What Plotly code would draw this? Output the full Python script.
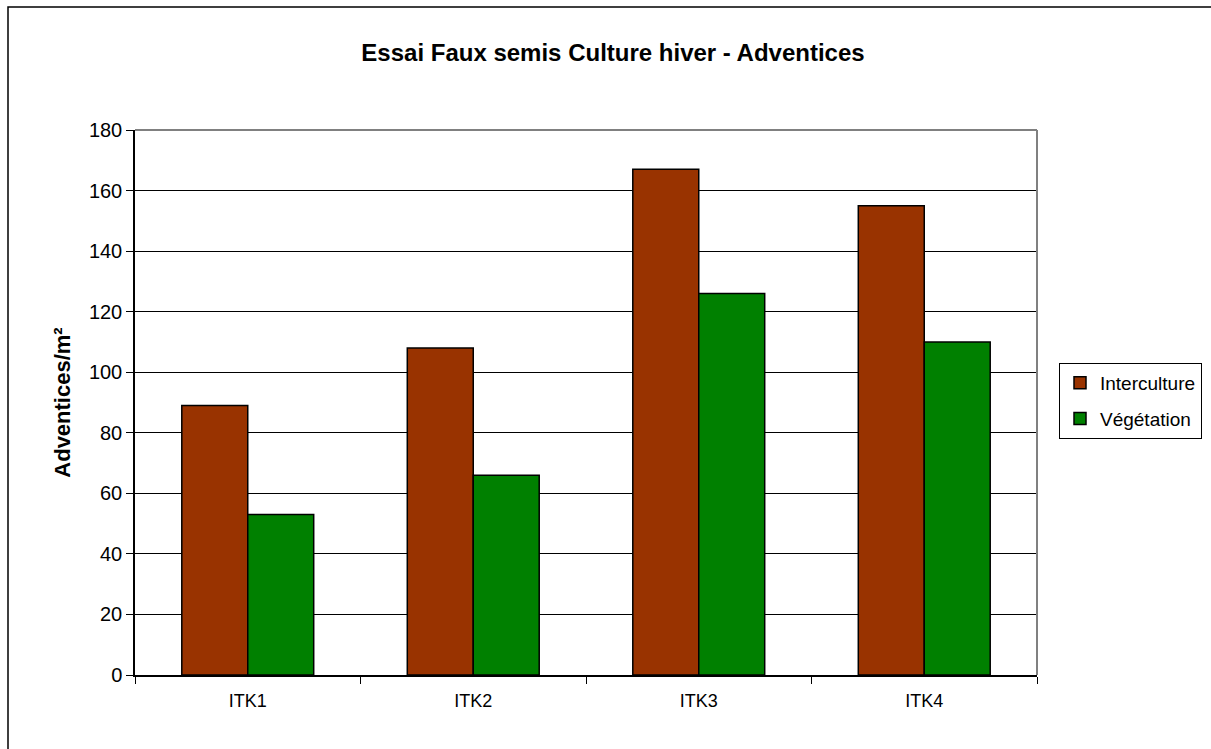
import plotly.graph_objects as go

categories = ["ITK1", "ITK2", "ITK3", "ITK4"]
interculture = [89, 108, 167, 155]
vegetation = [53, 66, 126, 110]
y_ticks = [0, 20, 40, 60, 80, 100, 120, 140, 160, 180]

W, H = 1211, 749
L, R, T, B = 135, 1037, 130, 675

fig = go.Figure()
fig.add_trace(go.Bar(name="Interculture", x=categories, y=interculture, legendgroup="a",
                     marker=dict(color="#993300", line=dict(color="black", width=1.5))))
fig.add_trace(go.Bar(name="Végétation", x=categories, y=vegetation, legendgroup="b",
                     marker=dict(color="#008000", line=dict(color="black", width=1.5))))

pw, ph = R - L, B - T
def px(x):
    return (x - L) / pw
def py(y):
    return (B - y) / ph

shapes = [
    # outer frame
    dict(type="rect", xref="paper", yref="paper", x0=px(8), x1=px(1300), y0=py(7), y1=py(900),
         line=dict(color="black", width=1.5), fillcolor="rgba(0,0,0,0)", layer="below"),
    # plot area border top and right (gray)
    dict(type="line", xref="paper", yref="paper", x0=0, x1=1, y0=1, y1=1,
         line=dict(color="#808080", width=2), layer="above"),
    dict(type="line", xref="paper", yref="paper", x0=1, x1=1, y0=0, y1=1,
         line=dict(color="#808080", width=2), layer="above"),
]

fig.update_layout(
    width=W, height=H,
    margin=dict(l=L, r=W - R, t=T, b=H - B, pad=0, autoexpand=False),
    paper_bgcolor="white", plot_bgcolor="white",
    font=dict(family="Liberation Sans, Arial, sans-serif", size=20, color="black"),
    title=dict(text="<b>Essai Faux semis Culture hiver - Adventices</b>",
               x=px(613), xanchor="center", xref="paper",
               y=1 - 53 / H, yanchor="middle", font=dict(size=24)),
    barmode="group", bargap=0.415, bargroupgap=0,
    showlegend=True,
    legend=dict(x=px(1059), xanchor="left", y=py(401), yanchor="middle",
                bordercolor="black", borderwidth=1, bgcolor="white",
                font=dict(size=19), traceorder="grouped", tracegroupgap=8, itemwidth=30),
    shapes=shapes,
    xaxis=dict(showgrid=False, showline=True, linecolor="black", linewidth=1.5,
               ticks="outside", tickson="boundaries", ticklen=7, tickcolor="black",
               tickfont=dict(size=18), ticklabelstandoff=9),
    yaxis=dict(range=[0, 180], tickvals=y_ticks, showgrid=True, gridcolor="black", gridwidth=1,
               showline=True, linecolor="black", linewidth=1.5, zeroline=False,
               ticks="outside", ticklen=7, tickcolor="black", tickfont=dict(size=20),
               title=dict(text="<b>Adventices/m²</b>", font=dict(size=22), standoff=12)),
)

fig.write_html("out.html", post_script="document.body.style.margin='0';",
               config={"displayModeBar": False})
